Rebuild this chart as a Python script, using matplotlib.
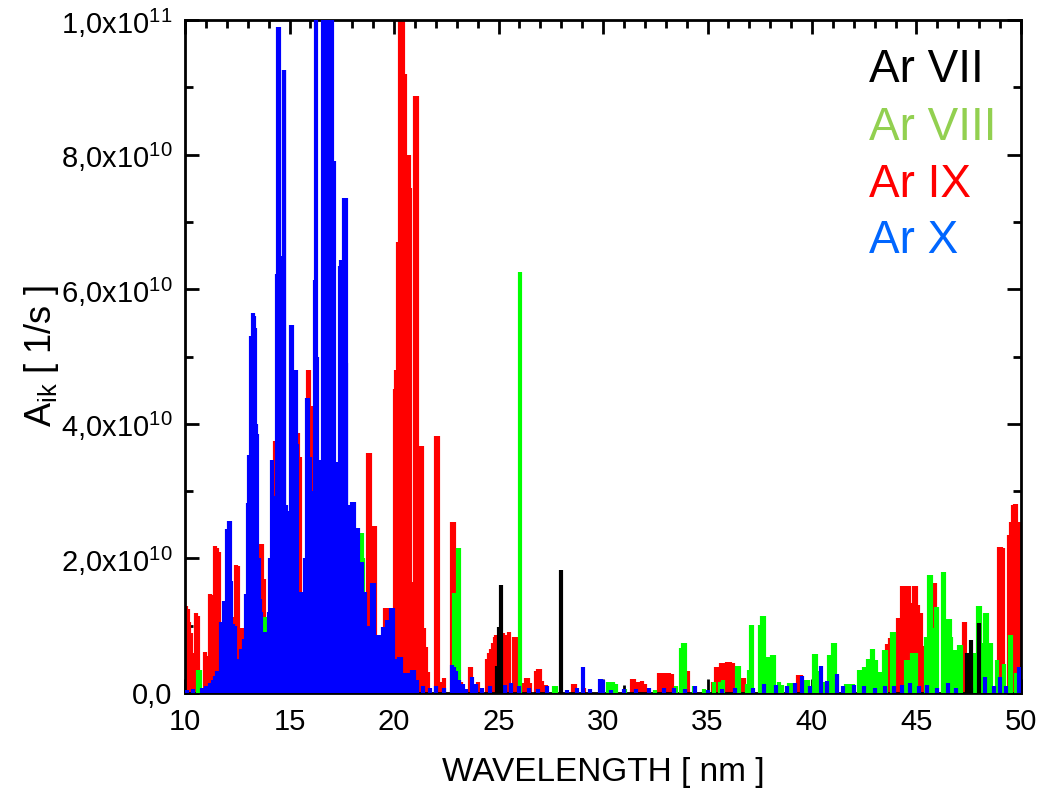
import matplotlib
matplotlib.use("Agg")
import matplotlib.pyplot as plt
from matplotlib.ticker import FixedLocator, MultipleLocator
import numpy as np

plt.rcParams['font.family'] = ['Liberation Sans', 'DejaVu Sans']
plt.rcParams['mathtext.fontset'] = 'custom'
plt.rcParams['mathtext.rm'] = 'Liberation Sans'
plt.rcParams['mathtext.it'] = 'Liberation Sans:italic'

# ---------------- data (wavelength nm, A_ik in 1e9 1/s) ----------------
ar9_wl = [10.05, 10.12, 10.2, 10.28, 10.35, 10.45, 10.55, 10.62, 10.98, 11.05, 11.22, 11.3,
          11.45, 11.55, 11.65, 11.75, 12.35, 12.45, 12.55, 12.75, 12.83, 13.5, 13.62, 13.7,
          13.78, 13.95, 14.3, 14.36, 14.7, 15.25, 15.4, 15.48, 15.88, 15.95, 16.1, 16.38,
          16.45, 17.1, 18.75, 18.85, 19.02, 19.1, 19.58, 19.7, 19.9, 20.05, 20.1, 20.2, 20.3,
          20.38, 20.45, 20.55, 20.62, 20.7, 20.78, 20.85, 21.0, 21.08, 21.28, 21.36, 21.45,
          21.55, 21.65, 22.02, 22.1, 22.2, 22.4, 22.78, 22.86, 22.92, 23.2, 23.62, 23.7, 24.0,
          24.45, 24.55, 24.65, 24.75, 24.85, 24.9, 25.2, 25.3, 25.4, 25.5, 25.75, 25.82,
          26.2, 26.3, 26.4, 26.5, 26.8, 26.9, 27.0, 27.1, 27.25, 28.55, 28.65, 29.1, 31.4,
          31.5, 31.6, 31.75, 31.85, 32.0, 32.7, 32.85, 33.0, 33.15, 33.3, 34.05, 35.25, 35.4,
          35.5, 35.65, 35.8, 35.95, 36.1, 36.2, 36.65, 36.75, 39.35, 39.45, 40.4, 43.35, 43.6,
          43.72, 44.1, 44.2, 44.3, 44.38, 44.45, 44.55, 44.62, 44.72, 44.9, 44.98, 45.05,
          45.15, 45.22, 45.3, 45.8, 45.88, 47.25, 47.33, 48.95, 49.05, 49.12, 49.42, 49.5,
          49.6, 49.7, 49.78, 49.9, 49.97]
ar9_a = [12.9, 12.5, 10.5, 8.9, 6.0, 4.0, 11.9, 11.5, 6.1, 5.5, 14.7, 14.5,
         21.9, 21.5, 21.0, 4.0, 11.3, 19.0, 18.8, 9.7, 9.5, 18.2, 22.2, 22.2,
         17.0, 10.5, 37.5, 34.0, 28.4, 34.1, 38.6, 35.0, 48.0, 48.0, 42.7, 31.0,
         31.0, 7.0, 35.6, 35.6, 24.8, 24.8, 12.6, 12.6, 5.0, 45.1, 48.0, 67.0, 100.0,
         100.0, 100.0, 92.0, 80.0, 80.0, 75.0, 16.5, 88.7, 88.7, 36.7, 36.7, 9.7,
         6.9, 3.1, 38.2, 38.2, 1.7, 2.3, 25.4, 25.4, 15.0, 1.7, 3.8, 3.8, 1.6,
         5.0, 6.0, 6.5, 7.5, 8.3, 8.6, 8.9, 8.6, 7.3, 9.1, 8.3, 8.3,
         1.5, 2.2, 2.2, 1.5, 3.3, 3.6, 3.6, 1.8, 1.2, 1.3, 1.3, 0.8, 2.1,
         2.1, 1.6, 1.6, 1.8, 1.3, 3.0, 3.0, 3.0, 3.0, 2.8, 3.2, 1.6, 3.9,
         3.9, 4.4, 4.4, 4.6, 4.6, 4.5, 2.2, 2.2, 2.7, 2.7, 2.7, 2.8, 7.3,
         8.2, 11.1, 11.1, 15.9, 15.9, 14.3, 15.9, 15.9, 13.4, 15.9, 15.9, 13.1,
         11.9, 11.9, 7.0, 16.3, 16.3, 10.5, 10.5, 21.7, 21.7, 21.5, 23.5, 25.4,
         27.9, 28.1, 28.1, 25.4, 25.4]

ar8_wl = [10.6, 10.7, 12.78, 13.8, 13.88, 13.95, 16.05, 18.35, 18.45, 18.52, 22.88, 23.05,
          23.12, 26.05, 27.65, 27.75, 30.25, 30.35, 30.5, 30.62, 31.05, 32.5, 33.5, 33.72,
          33.82, 33.92, 34.35, 34.85, 35.3, 35.6, 35.72, 36.4, 36.5, 36.9, 37.0, 37.08,
          37.15, 37.5, 37.6, 37.68, 37.9, 38.0, 38.1, 38.18, 38.4, 38.55, 38.9, 39.05,
          39.15, 39.7, 39.8, 40.1, 40.2, 40.3, 40.6, 40.8, 40.9, 41.0, 41.1, 41.2, 41.65,
          41.8, 41.95, 42.25, 42.35, 42.5, 42.7, 42.85, 42.92, 43.05, 43.25, 43.45, 43.55,
          43.85, 43.92, 44.5, 44.65, 44.8, 45.0, 45.45, 45.6, 45.68, 45.8, 45.92, 45.98,
          46.25, 46.32, 46.5, 46.58, 46.65, 46.8, 46.9, 47.05, 47.15, 47.8, 47.95, 48.05,
          48.15, 48.28, 48.35, 48.45, 48.55, 48.85, 49.2, 49.45, 49.52, 49.75]
ar8_a = [3.4, 3.4, 4.6, 11.3, 11.3, 6.0, 11.8, 23.7, 23.7, 20.0, 14.8, 21.5,
         21.5, 62.5, 1.0, 1.0, 1.6, 1.6, 1.6, 1.4, 0.6, 0.5, 1.0, 6.7,
         7.4, 7.4, 1.0, 0.6, 1.6, 1.6, 1.9, 4.0, 4.0, 1.3, 3.4, 10.1,
         10.1, 10.1, 11.4, 11.4, 5.3, 5.3, 5.6, 5.6, 1.6, 1.2, 1.5, 1.5,
         1.5, 2.0, 2.0, 5.8, 5.8, 3.3, 1.6, 5.6, 5.6, 7.4, 7.4, 2.6, 1.3,
         1.3, 1.3, 3.4, 3.4, 3.9, 5.0, 6.5, 6.5, 4.9, 3.1, 6.4, 6.4,
         9.0, 9.0, 4.9, 4.9, 6.0, 6.0, 8.3, 17.5, 17.5, 9.6, 12.8, 12.8,
         18.0, 18.0, 11.0, 11.0, 8.3, 6.4, 6.4, 7.1, 7.1, 5.9, 12.9, 12.9,
         7.5, 11.9, 11.9, 7.4, 7.4, 4.9, 4.3, 8.6, 8.6, 3.0]

ar10_wl = [10.1, 10.4, 10.8, 11.0, 11.2, 11.35, 11.45, 11.55, 11.62, 11.72, 11.8, 11.88,
           11.95, 12.02, 12.1, 12.15, 12.22, 12.3, 12.38, 12.5, 12.6, 12.7, 12.82, 12.9,
           13.0, 13.05, 13.1, 13.18, 13.26, 13.3, 13.36, 13.42, 13.46, 13.52, 13.58, 13.65,
           13.75, 13.85, 14.0, 14.08, 14.15, 14.22, 14.3, 14.4, 14.47, 14.52, 14.58, 14.65,
           14.72, 14.76, 14.82, 14.9, 14.98, 15.05, 15.1, 15.16, 15.22, 15.3, 15.35, 15.45,
           15.55, 15.65, 15.75, 15.83, 15.9, 15.98, 16.05, 16.15, 16.22, 16.27, 16.32, 16.4,
           16.45, 16.52, 16.6, 16.65, 16.7, 16.75, 16.8, 16.85, 16.9, 16.95, 17.0, 17.05,
           17.15, 17.22, 17.3, 17.4, 17.48, 17.55, 17.62, 17.68, 17.72, 17.8, 17.9, 18.0,
           18.08, 18.18, 18.28, 18.35, 18.45, 18.52, 18.62, 18.75, 18.95, 19.02, 19.15, 19.25,
           19.35, 19.45, 19.52, 19.65, 19.72, 19.85, 19.95, 20.05, 20.25, 20.35, 20.5, 20.65,
           20.85, 20.95, 21.1, 21.4, 21.7, 22.0, 22.4, 22.78, 22.88, 22.95, 23.1, 23.3, 23.45,
           23.72, 23.9, 24.2, 24.6, 25.3, 25.6, 26.0, 26.45, 26.9, 27.3, 28.3, 28.75, 29.05,
           29.4, 29.85, 29.92, 30.0, 30.4, 31.0, 31.6, 32.2, 32.9, 33.4, 33.9, 34.4, 35.0,
           35.7, 36.3, 37.2, 37.7, 38.3, 38.8, 39.2, 39.5, 39.9, 40.45, 40.7, 41.2, 41.5,
           42.0, 42.5, 43.0, 43.5, 43.9, 44.3, 44.7, 45.1, 45.5, 46.0, 46.5, 46.9, 47.6,
           48.3, 48.7, 49.0, 49.3, 49.9]
ar10_a = [0.5, 0.6, 0.8, 1.0, 1.5, 2.0, 2.5, 3.2, 2.0, 10.5, 10.5, 13.7,
          13.7, 24.3, 25.6, 25.6, 16.6, 10.2, 10.0, 4.0, 5.0, 6.6, 8.0, 14.7,
          28.3, 35.4, 26.6, 53.0, 56.5, 56.0, 54.2, 40.0, 38.5, 20.0, 14.0, 12.0,
          8.0, 9.0, 12.0, 20.0, 34.6, 29.2, 15.0, 62.3, 99.0, 99.0, 58.7, 65.0,
          92.5, 92.5, 27.9, 27.0, 20.0, 54.7, 54.7, 33.0, 25.0, 48.0, 37.0, 15.0,
          15.0, 12.0, 20.0, 43.8, 43.8, 35.0, 12.0, 30.0, 61.3, 100.0, 50.0, 20.0,
          34.6, 32.0, 100.0, 100.0, 100.0, 100.0, 100.0, 100.0, 100.0, 100.0, 100.0, 100.0,
          79.0, 34.3, 20.0, 63.4, 64.3, 49.0, 73.5, 73.5, 49.0, 27.9, 10.0, 28.4,
          28.4, 10.0, 24.5, 15.0, 19.5, 15.0, 15.0, 10.0, 16.3, 16.3, 6.0, 8.6,
          8.6, 9.8, 9.8, 10.8, 10.8, 12.7, 12.7, 5.0, 5.3, 5.3, 3.0, 3.0,
          3.4, 3.4, 2.0, 1.0, 0.8, 1.0, 0.8, 4.2, 3.8, 3.3, 2.0, 1.3, 0.6,
          2.4, 1.3, 0.8, 1.0, 1.2, 1.5, 1.0, 0.8, 0.6, 1.1, 0.5, 0.8, 3.9,
          0.6, 2.1, 2.1, 2.0, 0.5, 0.6, 0.6, 0.7, 0.8, 0.7, 0.6, 1.0, 0.5,
          0.6, 0.8, 0.8, 1.3, 1.2, 1.0, 1.5, 2.5, 1.0, 4.0, 1.8, 2.8, 1.0,
          1.2, 1.0, 0.8, 1.0, 1.0, 1.2, 1.5, 1.0, 1.2, 0.8, 1.5, 0.8, 0.8,
          2.4, 1.0, 2.4, 1.0, 3.8]

ar7_wl = [24.95, 25.0, 25.1, 27.98, 47.4, 47.6, 48.0]
ar7_a = [4.0, 9.8, 16.0, 18.3, 5.9, 7.9, 10.4]

legend_labels = ["Ar VII", "Ar VIII", "Ar IX", "Ar X"]
legend_colors = ["#000000", "#92D050", "#FF0000", "#0066FF"]

x_ticks = [10, 15, 20, 25, 30, 35, 40, 45, 50]
y_ticks = [0, 2e10, 4e10, 6e10, 8e10, 1e11]
y_tick_labels = ["0,0", r"$\mathregular{2{,}0x10^{10}}$", r"$\mathregular{4{,}0x10^{10}}$",
                 r"$\mathregular{6{,}0x10^{10}}$", r"$\mathregular{8{,}0x10^{10}}$",
                 r"$\mathregular{1{,}0x10^{11}}$"]

# ---------------- figure ----------------
fig = plt.figure(figsize=(10.41, 8.01), dpi=100)
ax = fig.add_axes([185/1041, 1 - 693/801, (1021-185)/1041, (693-20)/801])

lw = 3.0
scale = 1e9
ax.vlines(ar9_wl, 0, np.array(ar9_a) * scale, color="#FF0000", lw=lw, zorder=2)
ax.vlines(ar8_wl, 0, np.array(ar8_a) * scale, color="#00FF00", lw=lw, zorder=3)
ax.vlines(ar10_wl, 0, np.array(ar10_a) * scale, color="#0000FF", lw=lw, zorder=4)
ax.vlines(ar7_wl, 0, np.array(ar7_a) * scale, color="#000000", lw=lw, zorder=5)

ax.set_xlim(10, 50)
ax.set_ylim(0, 1e11)
ax.xaxis.set_major_locator(FixedLocator(x_ticks))
ax.xaxis.set_minor_locator(MultipleLocator(1))
ax.yaxis.set_major_locator(FixedLocator(y_ticks))
ax.yaxis.set_minor_locator(MultipleLocator(1e10))
ax.set_xticklabels([str(v) for v in x_ticks])
ax.set_yticklabels(y_tick_labels)

ax.tick_params(which="both", direction="in", top=True, right=True, width=2, colors="black")
ax.tick_params(which="major", length=10, labelsize=21)
ax.tick_params(axis="x", which="major", pad=11)
ax.tick_params(axis="y", which="major", pad=9)
ax.tick_params(which="minor", length=6)
for s in ax.spines.values():
    s.set_linewidth(2)

ax.set_xlabel("WAVELENGTH [ nm ]", fontsize=24, labelpad=15)
ax.set_ylabel(r"A$_{\mathregular{ik}}$ [ 1/s ]", fontsize=26, labelpad=0)

baselines = [82, 140, 197, 253]
for lab, col, yb in zip(legend_labels, legend_colors, baselines):
    fig.text(869/1041, 1 - yb/801, lab, color=col, fontsize=33, ha="left", va="baseline")

fig.savefig("out.png", dpi=100)
